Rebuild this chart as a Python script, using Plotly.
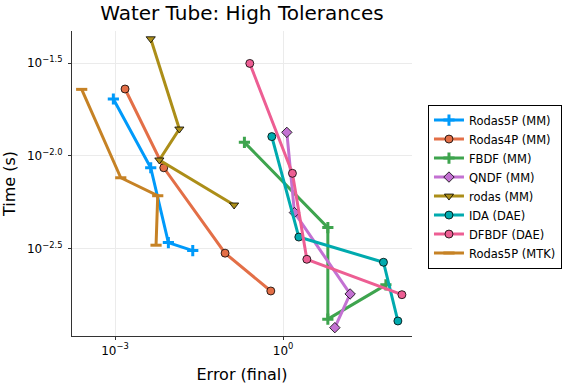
import plotly.graph_objects as go

# Data (log10 values)
names = ["Rodas5P (MM)", "Rodas4P (MM)", "FBDF (MM)", "QNDF (MM)", "rodas (MM)",
         "IDA (DAE)", "DFBDF (DAE)", "Rodas5P (MTK)"]

rodas5p_mm_err = [-3.03, -2.363, -2.048, -1.613]
rodas5p_mm_time = [-1.694, -2.065, -2.469, -2.512]

rodas4p_mm_err = [-2.821, -2.130, -1.036, -0.220]
rodas4p_mm_time = [-1.640, -2.065, -2.526, -2.730]

fbdf_mm_err = [-0.691, 0.798, 0.798, 1.834]
fbdf_mm_time = [-1.928, -2.388, -2.882, -2.697]

qndf_mm_err = [0.066, 0.202, 1.196, 0.923]
qndf_mm_time = [-1.874, -2.307, -2.746, -2.928]

rodas_mm_err = [-2.363, -1.852, -2.209, -0.875]
rodas_mm_time = [-1.369, -1.856, -2.023, -2.266]

ida_err = [-0.202, 0.280, 1.791, 2.048]
ida_time = [-1.897, -2.439, -2.575, -2.892]

dfbdf_err = [-0.595, 0.166, 0.423, 2.120]
dfbdf_time = [-1.502, -2.095, -2.559, -2.750]

rodas5p_mtk_err = [-3.595, -2.898, -2.238, -2.268]
rodas5p_mtk_time = [-1.642, -2.119, -2.216, -2.483]

x_tick_vals = [-3, 0]
x_tick_text = ["10<sup>−3</sup>", "10<sup>0</sup>"]
y_tick_vals = [-2.5, -2.0, -1.5]
y_tick_text = ["10<sup>−2.5</sup>", "10<sup>−2.0</sup>", "10<sup>−1.5</sup>"]

series_err = [rodas5p_mm_err, rodas4p_mm_err, fbdf_mm_err, qndf_mm_err, rodas_mm_err,
              ida_err, dfbdf_err, rodas5p_mtk_err]
series_time = [rodas5p_mm_time, rodas4p_mm_time, fbdf_mm_time, qndf_mm_time, rodas_mm_time,
               ida_time, dfbdf_time, rodas5p_mtk_time]

colors = ["#009AFA", "#E36F47", "#3EA44E", "#C371D2", "#AC8E18", "#00AAAE", "#ED5E93", "#C68225"]
symbols = ["cross-thin", "circle", "cross-thin", "diamond", "triangle-down", "circle", "circle", "line-ew"]

fig = go.Figure()
for i, name in enumerate(names):
    sym = symbols[i]
    if sym == "cross-thin" or sym == "line-ew":
        marker = dict(symbol=sym, size=8, color=colors[i],
                      line=dict(color=colors[i], width=3))
    else:
        marker = dict(symbol=sym, size=8, color=colors[i],
                      line=dict(color="black", width=0.8))
    fig.add_trace(go.Scatter(
        x=[10 ** v for v in series_err[i]],
        y=[10 ** v for v in series_time[i]],
        mode="lines+markers",
        name=name,
        line=dict(color=colors[i], width=3),
        marker=marker,
    ))

font = "DejaVu Sans"
fig.update_layout(
    width=576, height=384,
    margin=dict(l=72, r=164, t=31, b=48),
    paper_bgcolor="white", plot_bgcolor="white",
    font=dict(family=font, color="black", size=11),
    title=dict(text="Water Tube: High Tolerances", x=0.42, xanchor="center",
               xref="container", yref="container",
               y=0.967, yanchor="middle",
               font=dict(size=20, family=font)),
    legend=dict(x=1.047, y=0.49, xanchor="left", yanchor="middle",
                bordercolor="black", borderwidth=1, bgcolor="white",
                font=dict(size=11.5, family=font), itemwidth=30),
    showlegend=True,
)
fig.update_xaxes(
    type="log", range=[-3.768, 2.30], automargin=False,
    tickvals=[10 ** v for v in x_tick_vals], ticktext=x_tick_text,
    showgrid=True, gridcolor="#EBEBEB", gridwidth=1,
    showline=True, linecolor="#333333", linewidth=1.2,
    ticks="outside", ticklen=3, tickcolor="#333333",
    zeroline=False, mirror=False,
    title=dict(text="Error (final)", font=dict(size=16, family=font), standoff=13),
    tickfont=dict(size=12, family=font),
)
fig.update_yaxes(
    type="log", range=[-2.973, -1.327], automargin=False,
    tickvals=[10 ** v for v in y_tick_vals], ticktext=y_tick_text,
    showgrid=True, gridcolor="#EBEBEB", gridwidth=1,
    showline=True, linecolor="#333333", linewidth=1.2,
    ticks="outside", ticklen=3, tickcolor="#333333",
    zeroline=False, mirror=False, ticklabelstandoff=3,
    title=dict(text="Time (s)", font=dict(size=16, family=font), standoff=8),
    tickfont=dict(size=12, family=font),
)

fig.write_html("out.html", config={"displayModeBar": False},
               post_script="document.body.style.margin='0';document.body.style.padding='0';")
